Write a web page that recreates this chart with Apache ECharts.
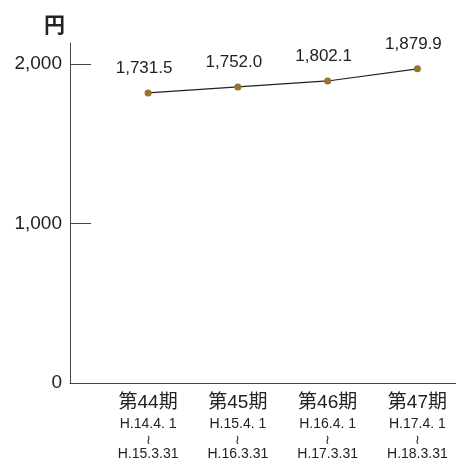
<!DOCTYPE html>
<html><head><meta charset="utf-8">
<script src="https://cdn.jsdelivr.net/npm/echarts@6/dist/echarts.min.js"></script>
<style>html,body{margin:0;padding:0;background:#fff}#c{width:456px;height:468px}</style>
</head><body><div id="c"></div>
<script>
const periods = ['第44期','第45期','第46期','第47期'];
const startDates = ['H.14.4. 1','H.15.4. 1','H.16.4. 1','H.17.4. 1'];
const endDates = ['H.15.3.31','H.16.3.31','H.17.3.31','H.18.3.31'];
// values as positioned in the picture
const plotted = [1818, 1856, 1893, 1969];
// value labels as printed
const valueLabels = ['1,731.5','1,752.0','1,802.1','1,879.9'];
const yTicks = [0, 1000, 2000];

const font = '"Liberation Sans","Noto Sans CJK JP",sans-serif';
const chart = echarts.init(document.getElementById('c'));
chart.setOption({
  animation:false,
  title:{text:'円',left:39,top:11,textStyle:{fontFamily:font,fontSize:21,fontWeight:'bold',color:'#222'}},
  grid:{left:70,right:0,top:43,bottom:85},
  xAxis:{type:'value',min:-0.87,max:3.43,
    axisLine:{show:true,onZero:false,lineStyle:{color:'#444',width:1}},
    axisTick:{show:false},splitLine:{show:false},
    axisLabel:{customValues:[0,1,2,3],margin:9,fontFamily:font,color:'#222',
      formatter:function(v){const i=Math.round(v);return '{a|'+periods[i]+'}\n{b|'+startDates[i]+'}\n{c|≀}\n{d|'+endDates[i]+'}';},
      rich:{a:{fontSize:19,lineHeight:22,fontFamily:font,color:'#222'},
            b:{fontSize:14,lineHeight:20,fontFamily:font,color:'#222'},
            c:{fontSize:13,lineHeight:12,fontFamily:font,color:'#222'},
            d:{fontSize:14,lineHeight:16,fontFamily:font,color:'#222'}}}
  },
  yAxis:{type:'value',min:0,max:2131,
    axisLine:{show:true,onZero:false,lineStyle:{color:'#444',width:1}},
    axisTick:{show:true,inside:true,length:21,customValues:[1000,2000],lineStyle:{color:'#444',width:1}},
    splitLine:{show:false},
    axisLabel:{customValues:yTicks,margin:8,fontFamily:font,fontSize:19,color:'#222',
      formatter:function(v){return v.toLocaleString('en-US');}}
  },
  series:[{type:'line',data:plotted.map((v,i)=>[i,v]),
    symbol:'circle',symbolSize:7,
    lineStyle:{color:'#222',width:1.2},
    itemStyle:{color:'#9a7230'},
    label:{show:true,position:'top',distance:13,offset:[-4,0],fontFamily:font,fontSize:17,color:'#222',
      formatter:function(p){return valueLabels[p.dataIndex];}}
  }]
});
</script></body></html>
